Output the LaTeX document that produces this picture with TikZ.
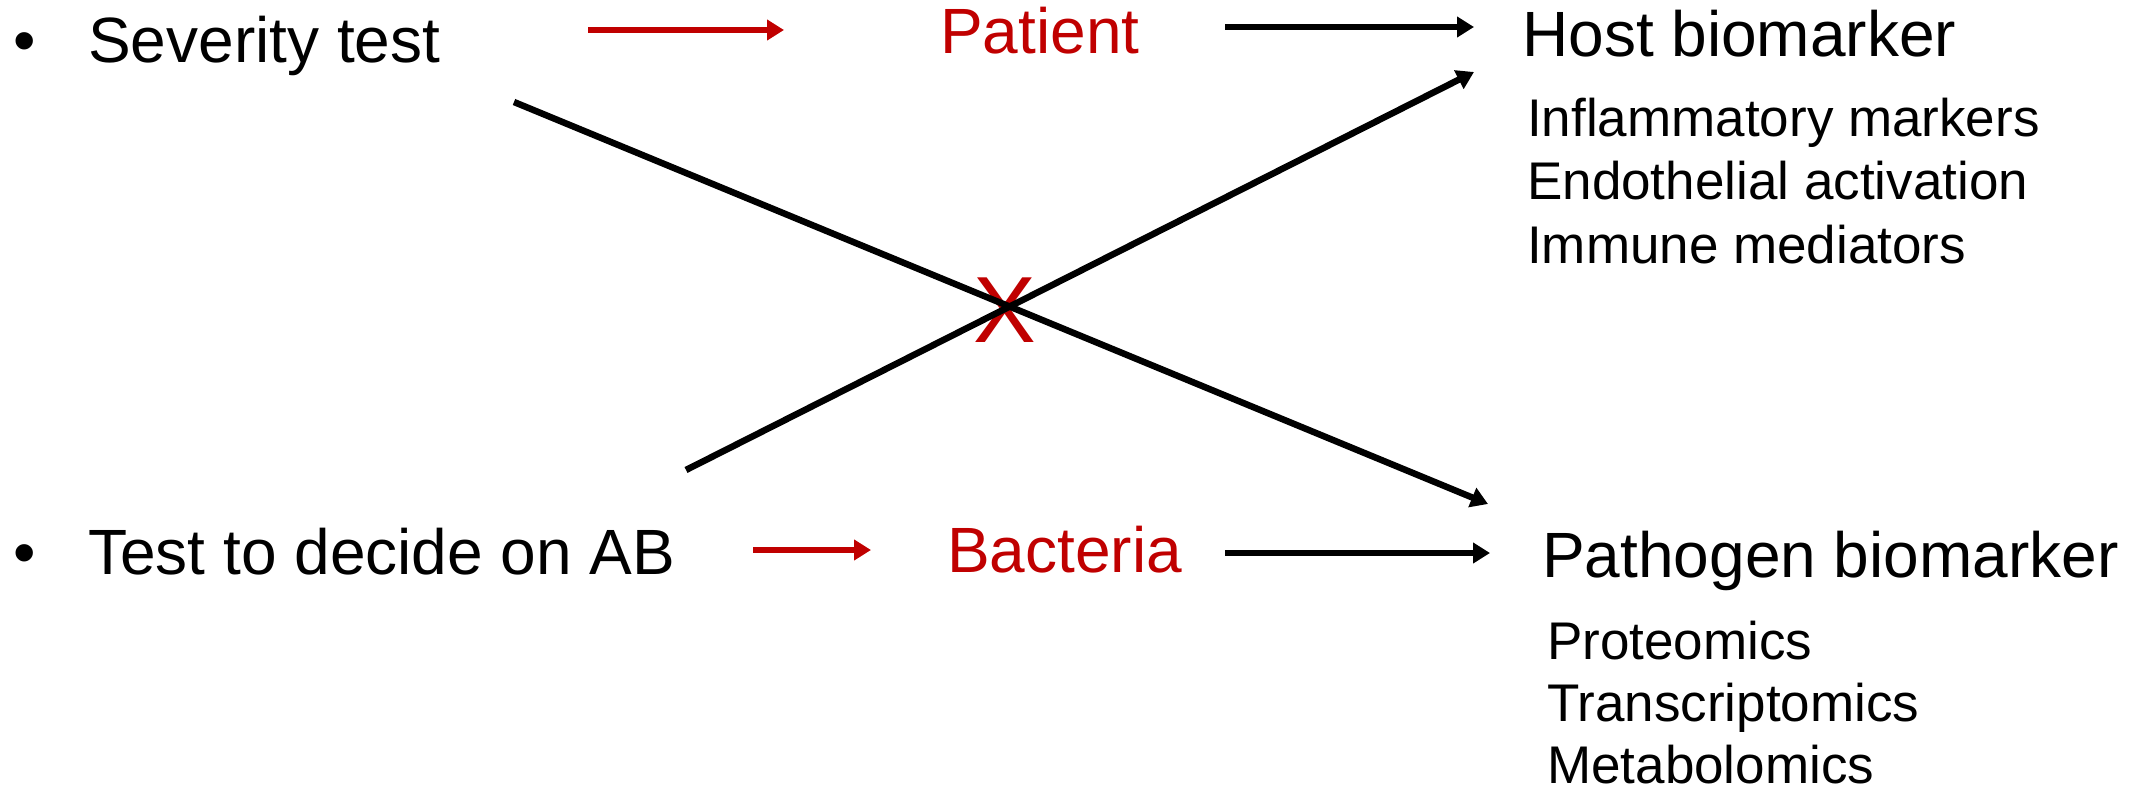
\documentclass[tikz,border=0pt]{standalone}
\usepackage{fontspec}
\setmainfont{Liberation Sans}
\usetikzlibrary{arrows.meta}
\definecolor{dred}{HTML}{C00000}
\begin{document}
\begin{tikzpicture}[x=1pt,y=-1pt,
  big/.style={font=\fontsize{64}{64}\selectfont, anchor=base west, inner sep=0pt},
  small/.style={font=\fontsize{53}{53}\selectfont, anchor=base west, inner sep=0pt},
  bul/.style={font=\fontsize{64}{64}\selectfont, anchor=base, inner sep=0pt},
  conn/.style={line width=6.5pt, -{Triangle[length=17pt,width=20pt]}},
  redconn/.style={conn, draw=dred},
  blkconn/.style={conn, draw=black}]
\useasboundingbox (0,0) rectangle (2134,789);
% top row
\node[bul] (b1) at (25,63) {•};
\node[big] (sev) at (88,63) {Severity test};
\node[big, text=dred] (pat) at (940,54) {Patient};
\node[big] (host) at (1522,57) {Host biomarker};
\node[small] (h1) at (1527,137) {Inflammatory markers};
\node[small] (h2) at (1527,200) {Endothelial activation};
\node[small] (h3) at (1527,263) {Immune mediators};
% bottom row
\node[bul] (b2) at (25,574) {•};
\node[big] (test) at (88,574) {Test to decide on AB};
\node[big, text=dred] (bac) at (947,572) {Bacteria};
\node[big] (path) at (1542,577) {Pathogen biomarker};
\node[small] (p1) at (1547,659) {Proteomics};
\node[small] (p2) at (1547,721) {Transcriptomics};
\node[small] (p3) at (1547,783) {Metabolomics};
% red X
\node[font=\fontsize{94}{94}\selectfont, text=dred, inner sep=0pt] (x) at (1005,310) {X};
% connector ends
\coordinate (a1s) at (588,30);  \coordinate (a1e) at (784,30);
\coordinate (a2s) at (1225,27); \coordinate (a2e) at (1474,27);
\coordinate (a3s) at (753,550); \coordinate (a3e) at (871,550);
\coordinate (a4s) at (1225,553); \coordinate (a4e) at (1490,553);
\coordinate (d1s) at (514,102); \coordinate (d1e) at (1488,504);
\coordinate (d2s) at (686,470); \coordinate (d2e) at (1474,72);
\draw[redconn] (a1s) -- (a1e);
\draw[blkconn] (a2s) -- (a2e);
\draw[redconn] (a3s) -- (a3e);
\draw[blkconn] (a4s) -- (a4e);
\draw[blkconn] (d1s) -- (d1e);
\draw[blkconn] (d2s) -- (d2e);
\end{tikzpicture}
\end{document}
